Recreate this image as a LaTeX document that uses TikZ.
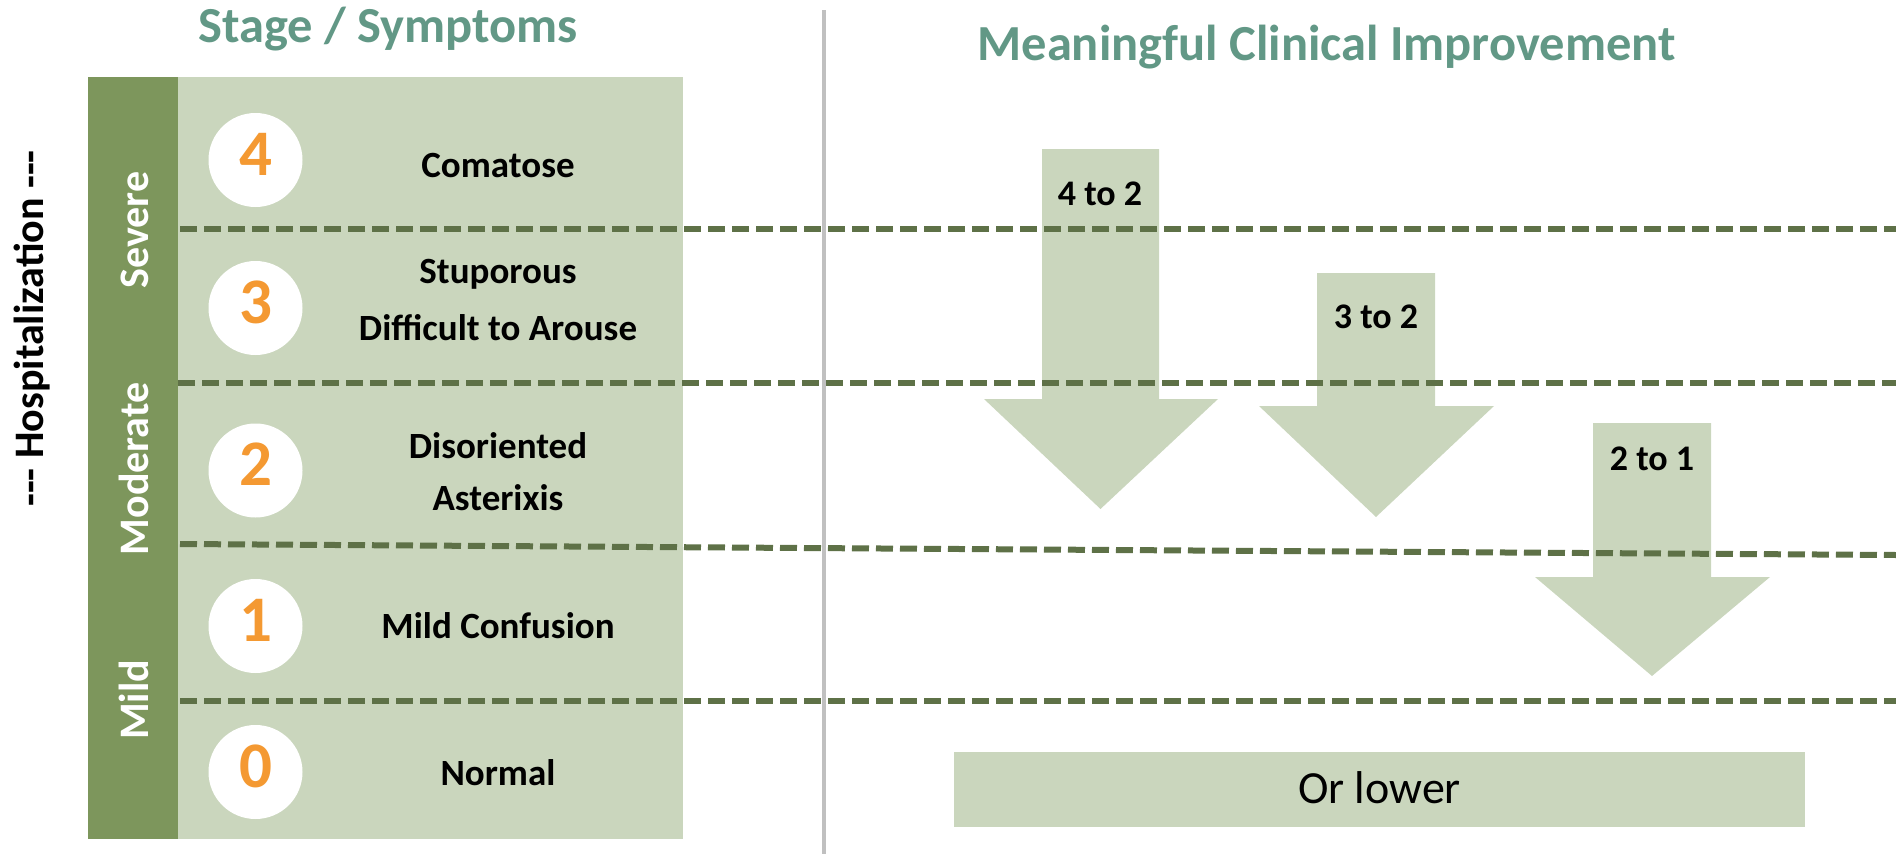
\documentclass[tikz,border=0pt]{standalone}
\usepackage{fontspec}
\setmainfont{Carlito}
\definecolor{bandgreen}{RGB}{125,150,92}
\definecolor{panelgreen}{RGB}{202,214,189}
\definecolor{rulegreen}{RGB}{94,113,71}
\definecolor{headteal}{RGB}{98,152,134}
\definecolor{stageorange}{RGB}{244,153,50}
\definecolor{splitgray}{RGB}{192,192,192}
\begin{document}
\begin{tikzpicture}[x=1pt,y=-1pt,
  heading/.style={font=\bfseries\fontsize{50.5}{60}\selectfont, text=headteal, anchor=base, inner sep=0},
  symptom/.style={font=\bfseries\fontsize{37}{44}\selectfont, anchor=base, inner sep=0},
  stagecircle/.style={circle, fill=white, minimum size=94, inner sep=0},
  stagedigit/.style={font=\bfseries\fontsize{65}{70}\selectfont, text=stageorange, anchor=base, inner sep=0},
  bandlabel/.style={rotate=90, font=\bfseries\fontsize{42}{50}\selectfont, text=white, anchor=base, inner sep=0},
  sidelabel/.style={rotate=90, font=\bfseries\fontsize{42}{50}\selectfont, text=black, anchor=base, inner sep=0},
  divider/.style={draw=rulegreen, line width=6, dash pattern=on 17 off 7},
  bigarrow/.style={fill=panelgreen, draw=none},
  arrowtext/.style={font=\bfseries\fontsize{36}{44}\selectfont, anchor=base, inner sep=0},
]
\useasboundingbox (0,0) rectangle (1896,854);

% stage column: severity band and symptom panel
\fill[bandgreen] (88,77) rectangle (178,839);
\fill[panelgreen] (178,77) rectangle (683,839);

% split between the two halves
\draw[splitgray, line width=3.5] (824,10) -- (824,854);

% improvement arrows
\path[bigarrow] (1042,149) -- (1159,149) -- (1159,399) -- (1218,399) -- (1100.5,509) -- (984,399) -- (1042,399) -- cycle;
\path[bigarrow] (1317,273) -- (1435,273) -- (1435,406) -- (1494,406) -- (1376,517) -- (1259,406) -- (1317,406) -- cycle;
\path[bigarrow] (1593,423) -- (1711,423) -- (1711,577) -- (1770,577) -- (1652,676) -- (1535,577) -- (1593,577) -- cycle;

% "or lower" bar
\node[fill=panelgreen, minimum width=851, minimum height=75, inner sep=0,
      font=\fontsize{46}{54}\selectfont, text height=28, text depth=0] (orlower) at (1379.5,789.5) {Or lower};

% stage dividers
\coordinate (d1a) at (180,229); \coordinate (d1b) at (1896,229);
\coordinate (d2a) at (178,383); \coordinate (d2b) at (1896,383);
\coordinate (d3a) at (180,544); \coordinate (d3b) at (1896,555);
\coordinate (d4a) at (180,701); \coordinate (d4b) at (1896,701);
\draw[divider] (d1a) -- (d1b);
\draw[divider] (d2a) -- (d2b);
\draw[divider] (d3a) -- (d3b);
\draw[divider] (d4a) -- (d4b);

% headings
\node[heading] (hstage) at (388,42.7) {Stage / Symptoms};
\node[heading] (himprove) at (1326.5,60) {Meaningful Clinical Improvement};

% side labels
\node[sidelabel] (hosp) at (43,328.5) {{-}{-}{-} Hospitalization {-}{-}{-}};
\node[bandlabel] (severe) at (148,230) {Severe};
\node[bandlabel] (moderate) at (148,469) {Moderate};
\node[bandlabel] (mild) at (148,700) {Mild};

% stage numbers
\node[stagecircle] (c4) at (255.5,160) {};
\node[stagecircle] (c3) at (255.5,308) {};
\node[stagecircle] (c2) at (255.5,470.5) {};
\node[stagecircle] (c1) at (255.5,626) {};
\node[stagecircle] (c0) at (255.5,772) {};
\node[stagedigit] (n4) at ([yshift=-15pt]c4.center) {4};
\node[stagedigit] (n3) at ([yshift=-15pt]c3.center) {3};
\node[stagedigit] (n2) at ([yshift=-15pt]c2.center) {2};
\node[stagedigit] (n1) at ([yshift=-15pt]c1.center) {1};
\node[stagedigit] (n0) at ([yshift=-15pt]c0.center) {0};

% symptoms
\node[symptom] (s4) at (498,177) {Comatose};
\node[symptom] (s3a) at (498,283) {Stuporous};
\node[symptom] (s3b) at (498,340) {Difficult to Arouse};
\node[symptom] (s2a) at (498,458) {Disoriented};
\node[symptom] (s2b) at (498,510) {Asterixis};
\node[symptom] (s1) at (498,638) {Mild Confusion};
\node[symptom] (s0) at (498,785) {Normal};

% arrow labels
\node[arrowtext] (a42) at (1100,205) {4 to 2};
\node[arrowtext] (a32) at (1376,328) {3 to 2};
\node[arrowtext] (a21) at (1652,470) {2 to 1};
\end{tikzpicture}
\end{document}
